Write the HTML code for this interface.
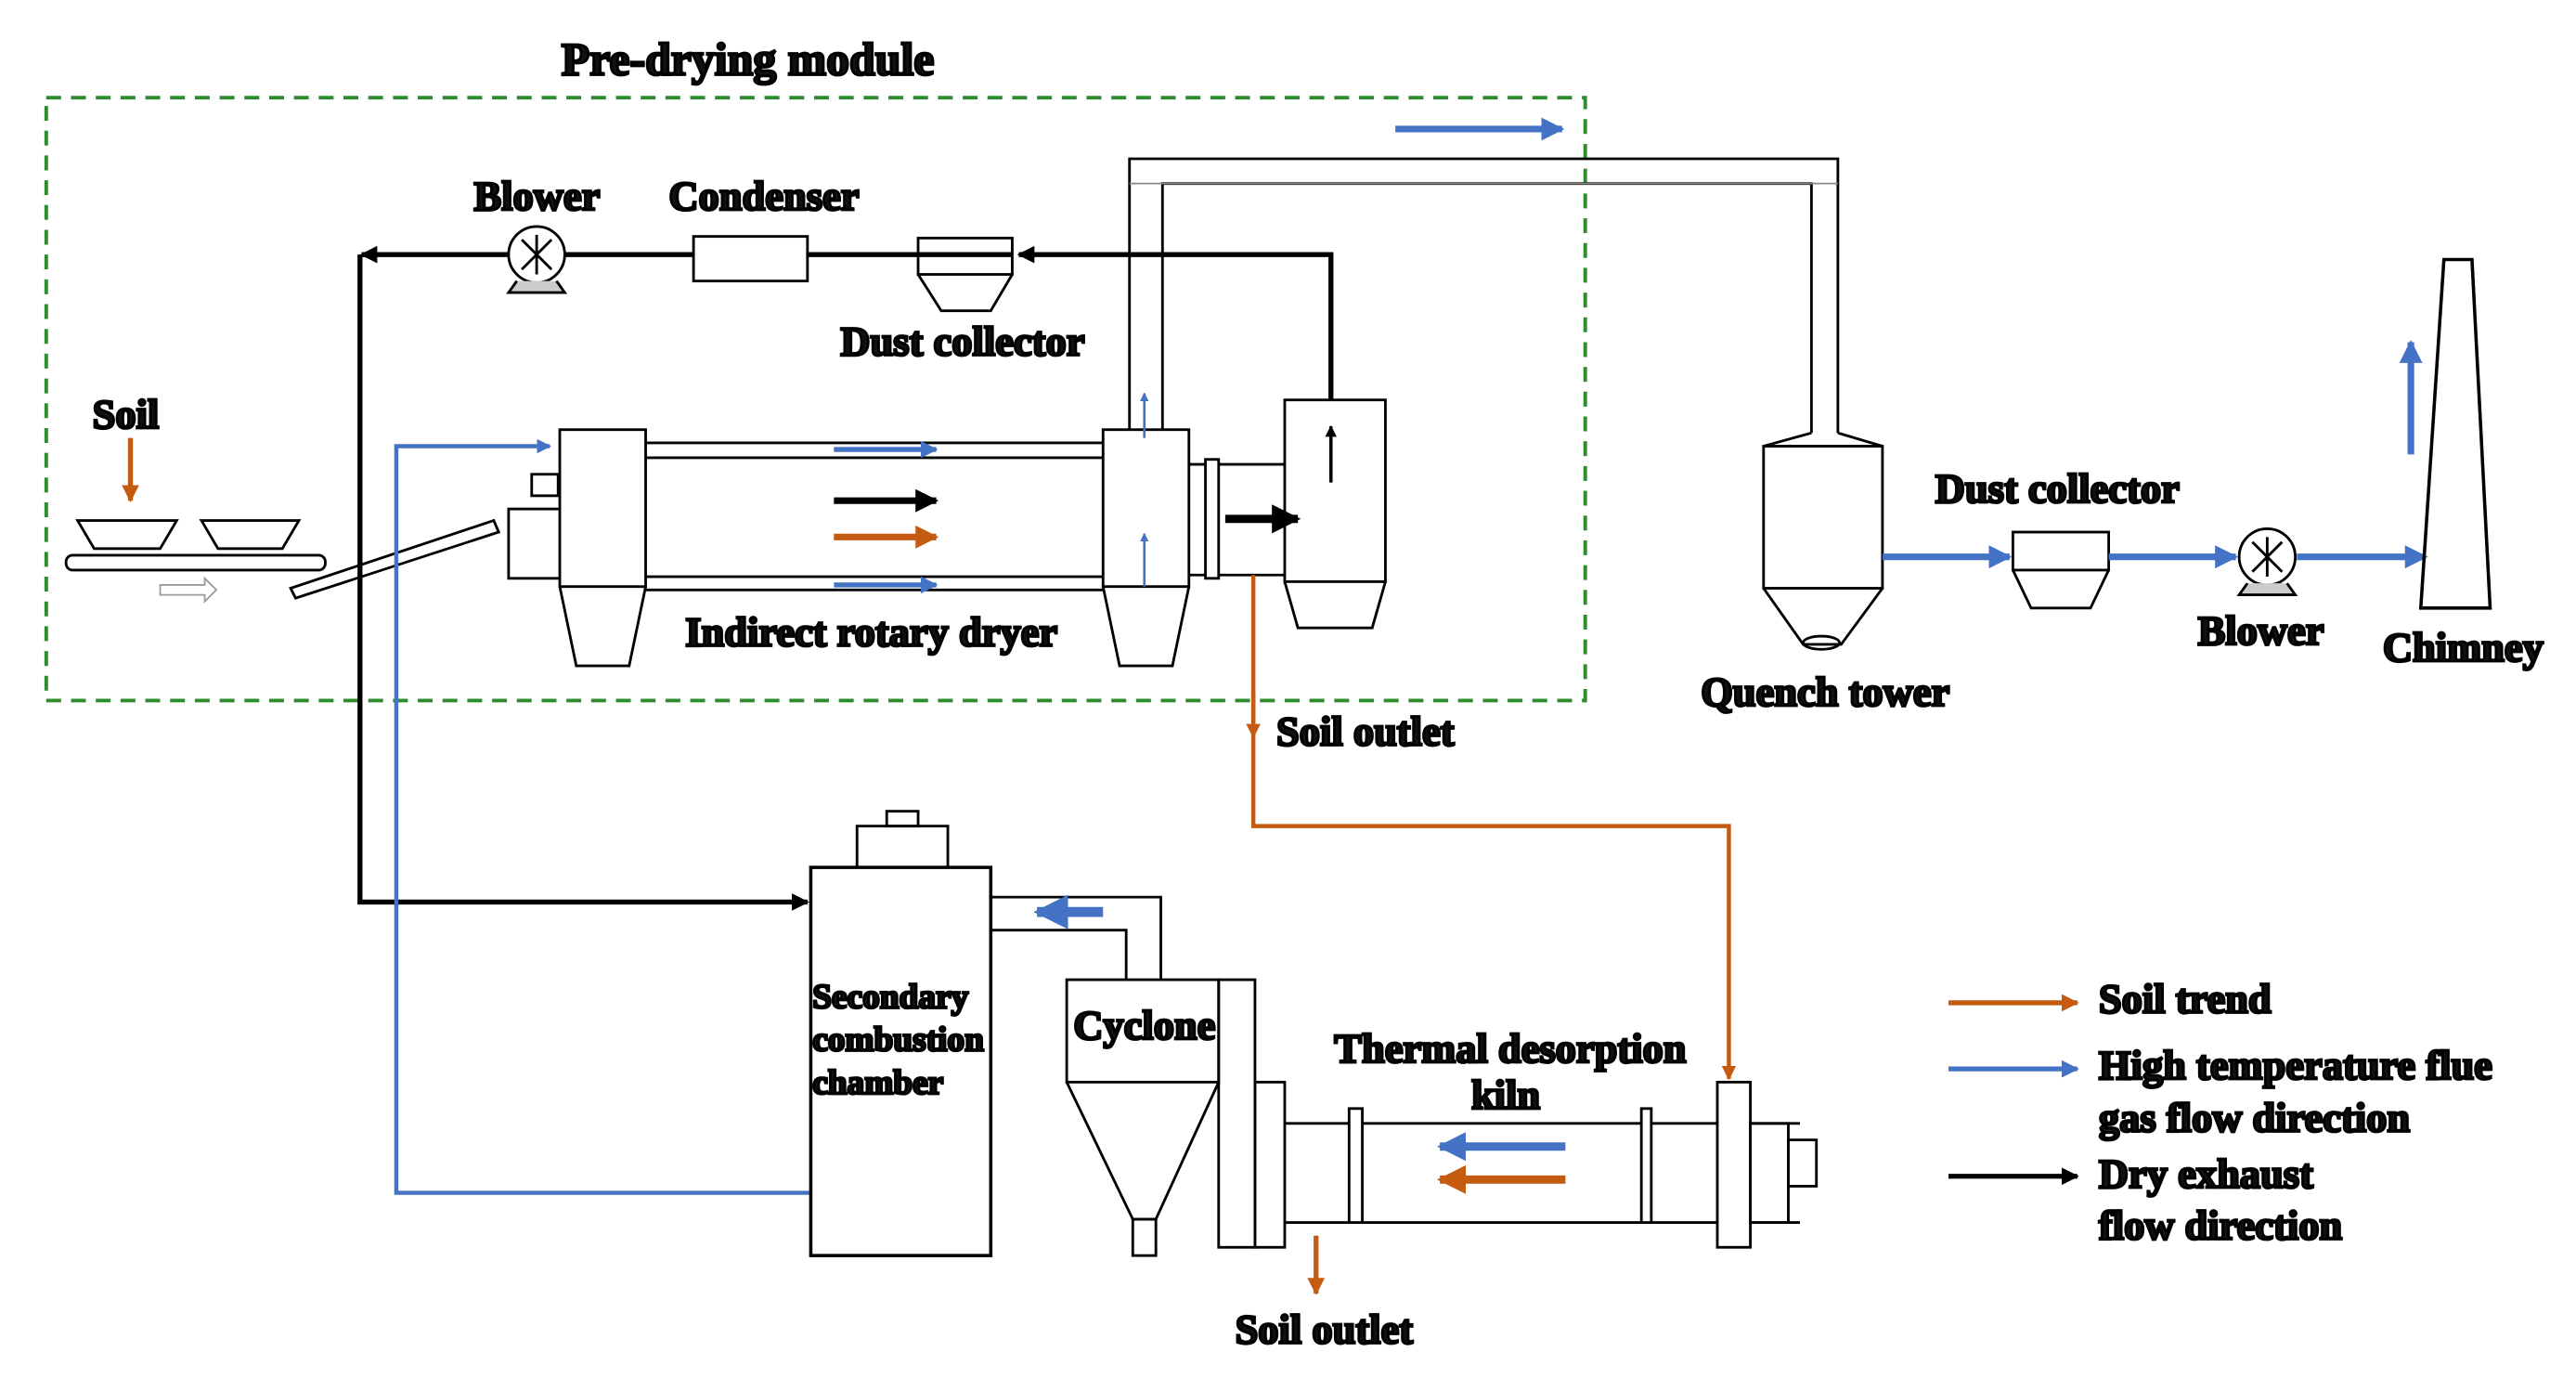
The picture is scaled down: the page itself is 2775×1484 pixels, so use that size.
<!DOCTYPE html>
<html><head><meta charset="utf-8"><style>
html,body{margin:0;padding:0;background:#fff}
svg{display:block}
text{font-family:"Liberation Serif",serif;font-weight:bold;font-size:25px;fill:#111}
</style></head><body>
<svg width="2775" height="1484" viewBox="0 0 1560 834" xmlns="http://www.w3.org/2000/svg">
<defs>
<marker id="ab" viewBox="0 0 10 10" refX="9" refY="5" markerWidth="3.5" markerHeight="3.5" orient="auto"><path d="M0,0L10,5L0,10z" fill="#000"/></marker>
<marker id="au" viewBox="0 0 10 10" refX="9" refY="5" markerWidth="3.5" markerHeight="3.5" orient="auto"><path d="M0,0L10,5L0,10z" fill="#4472c4"/></marker>
<marker id="ao" viewBox="0 0 10 10" refX="9" refY="5" markerWidth="3.5" markerHeight="3.5" orient="auto"><path d="M0,0L10,5L0,10z" fill="#c55a11"/></marker>
</defs>
<g fill="none" stroke="#000" stroke-width="1.6">
<text x="340" y="45" style="font-size:28px">Pre-drying module</text>
<rect x="28" y="59" width="932" height="365" stroke="#2e8b2e" stroke-width="2.2" stroke-dasharray="9,6"/>
<line x1="845" y1="78" x2="946" y2="78" stroke="#4472c4" stroke-width="4" marker-end="url(#au)"/>
<path d="M684,262V96H1113V262M704,262V111H1097V262"/>
<line x1="684" y1="111" x2="1113" y2="111" stroke="#888" stroke-width="1"/>
<path d="M806,242V154H617" stroke-width="3" marker-end="url(#ab)"/>
<path d="M613,154H489M420,154H342M308,154H220" stroke-width="3"/>
<line x1="230" y1="154" x2="219" y2="154" stroke-width="3" marker-end="url(#ab)"/>
<path d="M218,154V546H489" stroke-width="3" marker-end="url(#ab)"/>
<rect x="556" y="144" width="57" height="22"/><path d="M556,166L570,188H600L613,166"/>
<rect x="420" y="143" width="69" height="27"/>
<circle cx="325" cy="154" r="17"/><path d="M316,145L334,163M334,145L316,163M325,142V166"/><path d="M313,170L308,177H342L337,170" fill="#ccc"/>
<text x="287" y="127">Blower</text><text x="405" y="127">Condenser</text><text x="509" y="215">Dust collector</text>
<text x="56" y="259">Soil</text>
<line x1="79" y1="265" x2="79" y2="303" stroke="#c55a11" stroke-width="3" marker-end="url(#ao)"/>
<path d="M47,315H107L97,332H57ZM122,315H181L171,332H132Z"/>
<rect x="40" y="336" width="157" height="9" rx="4"/>
<path d="M97,354H124V350L131,357L124,364V360H97Z" stroke="#999" stroke-width="1"/>
<path d="M176,356L299,315L302,322L179,362Z"/>
<path d="M490,722H240V270H333" stroke="#4472c4" stroke-width="2.5" marker-end="url(#au)"/>
<rect x="308" y="308" width="32" height="42"/><rect x="322" y="287" width="16" height="13"/>
<rect x="339" y="260" width="52" height="95" fill="#fff"/><path d="M339,355L349,403H381L391,355"/>
<path d="M391,268H668M391,277H668M391,349H668M391,357H668"/>
<line x1="505" y1="272" x2="567" y2="272" stroke="#4472c4" stroke-width="3" marker-end="url(#au)"/>
<line x1="505" y1="354" x2="567" y2="354" stroke="#4472c4" stroke-width="3" marker-end="url(#au)"/>
<line x1="505" y1="303" x2="567" y2="303" stroke-width="4" marker-end="url(#ab)"/>
<line x1="505" y1="325" x2="567" y2="325" stroke="#c55a11" stroke-width="4" marker-end="url(#ao)"/>
<rect x="668" y="260" width="52" height="95" fill="#fff"/><path d="M668,355L678,403H710L720,355"/>
<line x1="693" y1="265" x2="693" y2="238" stroke="#4472c4" stroke-width="1.5" marker-end="url(#au)"/>
<line x1="693" y1="355" x2="693" y2="323" stroke="#4472c4" stroke-width="1.5" marker-end="url(#au)"/>
<path d="M720,281H778M720,348H778"/><rect x="730" y="278" width="8" height="72" fill="#fff"/>
<line x1="742" y1="314" x2="786" y2="314" stroke-width="5" marker-end="url(#ab)"/>
<rect x="778" y="242" width="61" height="110"/><path d="M778,352L786,380H831L839,352"/>
<line x1="806" y1="292" x2="806" y2="258" stroke-width="2" marker-end="url(#ab)"/>
<text x="415" y="391">Indirect rotary dryer</text>
<path d="M759,348V500H1047V653" stroke="#c55a11" stroke-width="2.5" marker-end="url(#ao)"/>
<path d="M759,420V446" stroke="#c55a11" stroke-width="2.5" marker-end="url(#ao)"/>
<text x="773" y="451">Soil outlet</text>
<path d="M1097,262L1068,270H1140L1113,262"/><rect x="1068" y="270" width="72" height="86"/>
<path d="M1068,356L1092,390H1115L1140,356"/><ellipse cx="1103" cy="389" rx="11" ry="4"/>
<text x="1030" y="427">Quench tower</text>
<line x1="1140" y1="337" x2="1217" y2="337" stroke="#4472c4" stroke-width="4" marker-end="url(#au)"/>
<rect x="1219" y="322" width="58" height="23"/><path d="M1219,345L1230,368H1266L1277,345"/>
<text x="1172" y="304">Dust collector</text>
<line x1="1277" y1="337" x2="1354" y2="337" stroke="#4472c4" stroke-width="4" marker-end="url(#au)"/>
<circle cx="1373" cy="337" r="17"/><path d="M1364,328L1382,346M1382,328L1364,346M1373,325V349"/><path d="M1361,353L1356,360H1390L1385,353" fill="#ccc"/>
<line x1="1391" y1="337" x2="1469" y2="337" stroke="#4472c4" stroke-width="4" marker-end="url(#au)"/>
<text x="1331" y="390">Blower</text>
<path d="M1480,157H1497L1508,368H1466Z" stroke-width="2"/>
<line x1="1460" y1="275" x2="1460" y2="207" stroke="#4472c4" stroke-width="4" marker-end="url(#au)"/>
<text x="1443" y="400">Chimney</text>
<rect x="491" y="525" width="109" height="235" stroke-width="2"/>
<rect x="519" y="500" width="55" height="25"/><rect x="537" y="491" width="19" height="9"/>
<text x="492" y="610" style="font-size:21px">Secondary</text>
<text x="492" y="636" style="font-size:21px">combustion</text>
<text x="492" y="662" style="font-size:21px">chamber</text>
<path d="M600,543H703V593M600,563H682V593"/>
<line x1="668" y1="552" x2="628" y2="552" stroke="#4472c4" stroke-width="6" marker-end="url(#au)"/>
<rect x="646" y="593" width="92" height="62"/>
<path d="M646,655L686,738H700L738,655"/><rect x="686" y="738" width="14" height="22"/>
<text x="650" y="629">Cyclone</text>
<rect x="738" y="593" width="22" height="162"/><rect x="760" y="655" width="18" height="100"/>
<path d="M778,680H1090M778,740H1090"/>
<rect x="817" y="671" width="8" height="69" fill="#fff"/><rect x="994" y="671" width="6" height="69" fill="#fff"/>
<rect x="1040" y="655" width="20" height="100" fill="#fff"/><rect x="1060" y="680" width="23" height="60"/><rect x="1083" y="690" width="17" height="28"/>
<line x1="948" y1="694" x2="872" y2="694" stroke="#4472c4" stroke-width="5" marker-end="url(#au)"/>
<line x1="948" y1="714" x2="872" y2="714" stroke="#c55a11" stroke-width="5" marker-end="url(#ao)"/>
<text x="808" y="643">Thermal desorption</text><text x="891" y="671">kiln</text>
<line x1="797" y1="748" x2="797" y2="783" stroke="#c55a11" stroke-width="3" marker-end="url(#ao)"/>
<text x="748" y="813">Soil outlet</text>
<line x1="1180" y1="607" x2="1258" y2="607" stroke="#c55a11" stroke-width="3" marker-end="url(#ao)"/>
<line x1="1180" y1="647" x2="1258" y2="647" stroke="#4472c4" stroke-width="3" marker-end="url(#au)"/>
<line x1="1180" y1="712" x2="1258" y2="712" stroke-width="3" marker-end="url(#ab)"/>
<text x="1271" y="613">Soil trend</text>
<text x="1271" y="653">High temperature flue</text><text x="1271" y="685">gas flow direction</text>
<text x="1271" y="719">Dry exhaust</text><text x="1271" y="750">flow direction</text>
</g>
</svg>
</body></html>
